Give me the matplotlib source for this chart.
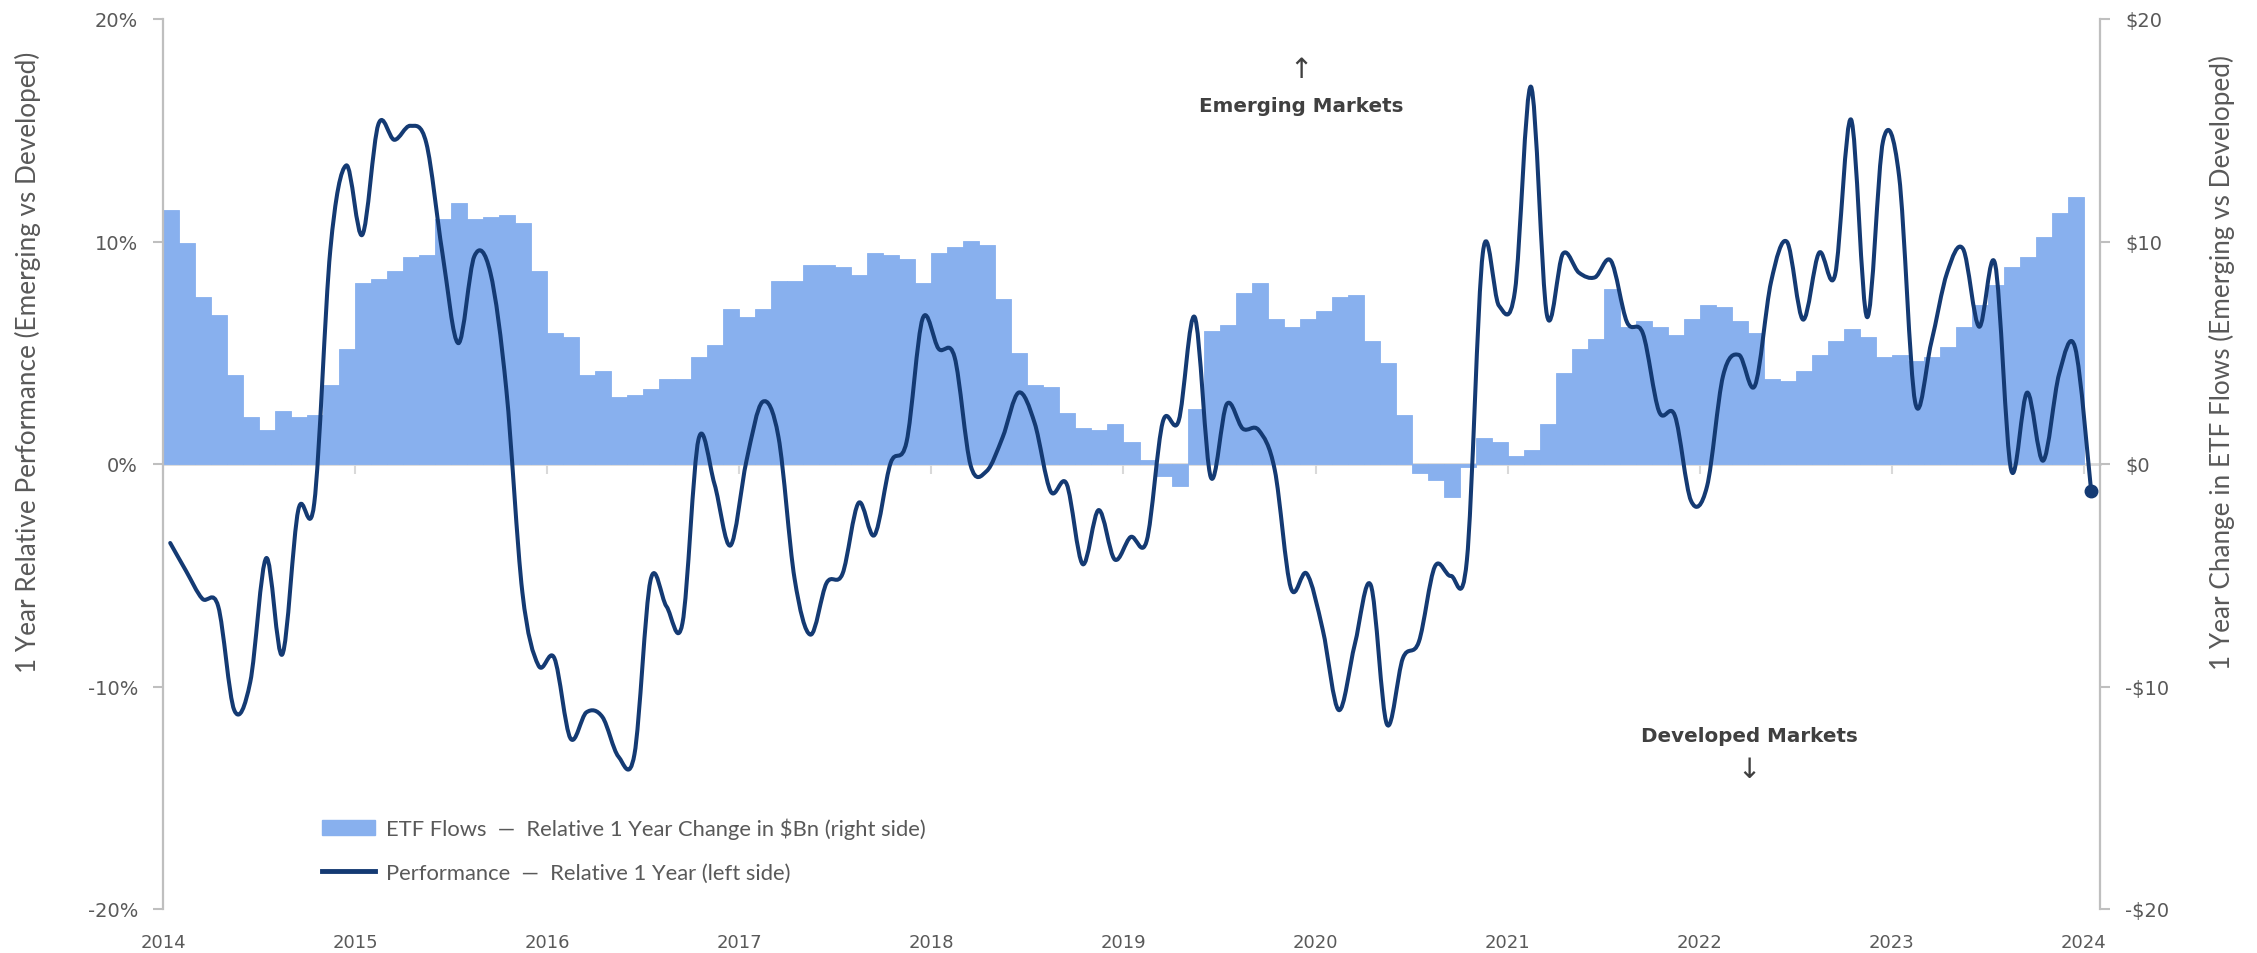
import matplotlib
matplotlib.use('Agg')
import matplotlib.pyplot as plt
from matplotlib.path import Path
from matplotlib.patches import PathPatch, Patch
from matplotlib.lines import Line2D
from matplotlib.ticker import FuncFormatter

# monthly ETF flows, Jan 2014 .. Dec 2023 ($Bn, right axis)
etf_flows = [
    11.4, 9.94, 7.5, 6.7, 3.98, 2.1, 1.55, 2.36, 2.1, 2.18, 3.53, 5.16,        # 2014
    8.14, 8.32, 8.68, 9.31, 9.4, 11.02, 11.74, 11.02, 11.11, 11.2, 10.84, 8.68,  # 2015
    5.88, 5.7, 3.98, 4.17, 2.99, 3.08, 3.35, 3.8, 3.8, 4.8, 5.34, 6.96,          # 2016
    6.6, 6.96, 8.23, 8.23, 8.95, 8.95, 8.86, 8.5, 9.49, 9.4, 9.22, 8.14,         # 2017
    9.49, 9.76, 10.03, 9.85, 7.41, 4.98, 3.53, 3.44, 2.27, 1.64, 1.55, 1.82,     # 2018
    1.0, 0.2, -0.53, -0.98, 2.45, 5.97, 6.24, 7.68, 8.14, 6.51, 6.15, 6.51,      # 2019
    6.87, 7.5, 7.58, 5.52, 4.53, 2.18, -0.41, -0.71, -1.5, -0.15, 1.19, 1.0,     # 2020
    0.38, 0.65, 1.82, 4.08, 5.16, 5.61, 7.86, 6.15, 6.42, 6.15, 5.79, 6.51,      # 2021
    7.14, 7.05, 6.42, 5.88, 3.8, 3.71, 4.17, 4.89, 5.52, 6.06, 5.7, 4.8,         # 2022
    4.89, 4.62, 4.8, 5.25, 6.15, 7.14, 8.05, 8.86, 9.31, 10.21, 11.29, 12.02,    # 2023
]

# monthly relative performance, Jan 2014 .. Jan 2024 (%, left axis)
performance = [
    -3.55, -4.82, -6.05, -6.4, -11.06, -9.8, -4.23, -8.56, -2.07, -1.75, 9.6, 13.42,
    10.3, 15.26, 14.57, 15.2, 14.42, 9.5, 5.43, 9.34, 8.6, 3.32, -5.77, -9.05,
    -8.73, -12.33, -11.16, -11.37, -13.15, -13.05, -5.24, -6.4, -7.15, 1.1, -0.9, -3.66,
    0.15, 2.79, 1.2, -5.14, -7.67, -5.35, -4.93, -1.75, -3.19, 0.04, 1.0, 6.53,
    5.18, 4.8, -0.06, -0.32, 1.2, 3.21, 1.84, -1.23, -0.9, -4.5, -2.07, -4.29,
    -3.28, -3.45, 1.88, 1.95, 6.6, -0.59, 2.69, 1.59, 1.52, -0.27, -5.56, -4.93,
    -7.46, -11.06, -8.1, -5.45, -11.69, -8.73, -7.99, -4.61, -5.03, -4.33, 9.5, 7.12,
    7.76, 16.96, 6.7, 9.45, 8.6, 8.39, 9.13, 6.38, 5.86, 2.37, 2.16, -1.65,
    -1.01, 3.95, 4.9, 3.53, 8.18, 9.98, 6.49, 9.49, 8.5, 15.48, 6.6, 14.52,
    12.94, 2.79, 5.43, 8.6, 9.66, 6.17, 8.98, -0.27, 3.21, 0.15, 4.06, 5.22,
    -1.23,
]

years = list(range(2014, 2025))

bar_color = '#88B0EE'
line_color = '#143A73'
axis_gray = '#BFBFBF'
text_gray = '#595959'
label_font = 'Lato'


def smooth_path(x, y):
    # bezier through the points, like excel's "smoothed line"
    verts = [(x[0], y[0])]
    codes = [Path.MOVETO]
    n = len(x)
    for i in range(n - 1):
        xa, ya = (x[i - 1], y[i - 1]) if i > 0 else (x[i], y[i])
        xb, yb = (x[i + 2], y[i + 2]) if i + 2 < n else (x[i + 1], y[i + 1])
        c1 = (x[i] + (x[i + 1] - xa) / 6, y[i] + (y[i + 1] - ya) / 6)
        c2 = (x[i + 1] - (xb - x[i]) / 6, y[i + 1] - (yb - y[i]) / 6)
        verts += [c1, c2, (x[i + 1], y[i + 1])]
        codes += [Path.CURVE4] * 3
    return Path(verts, codes)


fig = plt.figure(figsize=(22.57, 9.54), dpi=100)
ax = fig.add_axes([163 / 2257, 44 / 954, 1937 / 2257, 890 / 954])
ax2 = ax.twinx()

# bars on the right axis
bar_x = list(range(len(etf_flows)))
ax2.bar(bar_x, etf_flows, width=1.0, align='edge', color=bar_color,
        edgecolor=bar_color, linewidth=0.6)
ax2.set_ylim(-20, 20)

# line on the left axis, drawn above the bars
ax.set_zorder(ax2.get_zorder() + 1)
ax.patch.set_visible(False)
line_x = [i + 0.45 for i in range(len(performance))]
ax.add_patch(PathPatch(smooth_path(line_x, performance), fill=False,
                       edgecolor=line_color, lw=2.9, capstyle='round',
                       joinstyle='round'))
ax.plot(line_x[-1], performance[-1], 'o', color=line_color, ms=9)
ax.set_ylim(-20, 20)
ax.set_xlim(0, 121)

# zero line with year ticks
zero_ax = ax2.secondary_xaxis(0.5)
zero_ax.set_alignment('bottom')
zero_ax.set_xticks(range(0, 121, 12))
zero_ax.tick_params(axis='x', direction='out', length=7, width=1.5,
                    color='#D9D9D9', labelbottom=False, labeltop=False)
for s in zero_ax.spines.values():
    s.set_color('#D9D9D9')
    s.set_linewidth(2)

# axes styling
for a in (ax, ax2):
    for side in ('top', 'bottom'):
        a.spines[side].set_visible(False)
ax.spines['right'].set_visible(False)
ax2.spines['left'].set_visible(False)
ax.spines['left'].set_color(axis_gray)
ax.spines['left'].set_linewidth(1.6)
ax2.spines['right'].set_color(axis_gray)
ax2.spines['right'].set_linewidth(1.6)

ticks = [-20, -10, 0, 10, 20]
ax.set_yticks(ticks)
ax.yaxis.set_major_formatter(FuncFormatter(lambda v, p: f'{v:.0f}%'))
ax2.set_yticks(ticks)
ax2.yaxis.set_major_formatter(FuncFormatter(
    lambda v, p: ('-' if v < 0 else '') + '\\$' + f'{abs(v):.0f}'))
ax.tick_params(axis='y', length=7, width=1.5, color=axis_gray, pad=11,
               labelsize=14, labelcolor=text_gray)
ax2.tick_params(axis='y', length=7, width=1.5, color=axis_gray, pad=11,
                labelsize=14, labelcolor=text_gray)

ax.set_xticks(range(0, 121, 12))
ax.set_xticklabels([str(y) for y in years])
ax.tick_params(axis='x', length=0, pad=17, labelsize=13, labelcolor=text_gray)

ax.set_ylabel('1 Year Relative Performance (Emerging vs Developed)',
              family=label_font, fontsize=18.8, color=text_gray, va='center')
ax.yaxis.set_label_coords(-0.0698, 0.615)
ax2.set_ylabel('1 Year Change in ETF Flows (Emerging vs Developed)',
               family=label_font, fontsize=18.8, color=text_gray,
               rotation=90, va='center')
ax2.yaxis.set_label_coords(1.063, 0.615)

# direction notes
ax.text(71.1, 17.75, '\u2191', ha='center', va='center', fontsize=20, color='#404040')
ax.text(71.1, 16.1, 'Emerging Markets', ha='center', va='center', fontsize=14.3,
        fontweight='bold', color='#404040')
ax.text(99.1, -12.2, 'Developed Markets', ha='center', va='center', fontsize=14.3,
        fontweight='bold', color='#404040')
ax.text(99.1, -13.7, '\u2193', ha='center', va='center', fontsize=20, color='#404040')

handles = [Patch(facecolor=bar_color, edgecolor=bar_color),
           Line2D([], [], color=line_color, lw=3.5)]
labels = ['ETF Flows  \u2014  Relative 1 Year Change in $Bn (right side)',
          'Performance  \u2014  Relative 1 Year (left side)']
fig.legend(handles, labels, loc='upper left', bbox_to_anchor=(0.134, 0.1625),
           frameon=False, handlelength=2.4, handleheight=0.65, handletextpad=0.5,
           labelspacing=1.08, prop={'family': label_font, 'size': 15.8},
           labelcolor=text_gray)

fig.savefig('out.png', dpi=100)
